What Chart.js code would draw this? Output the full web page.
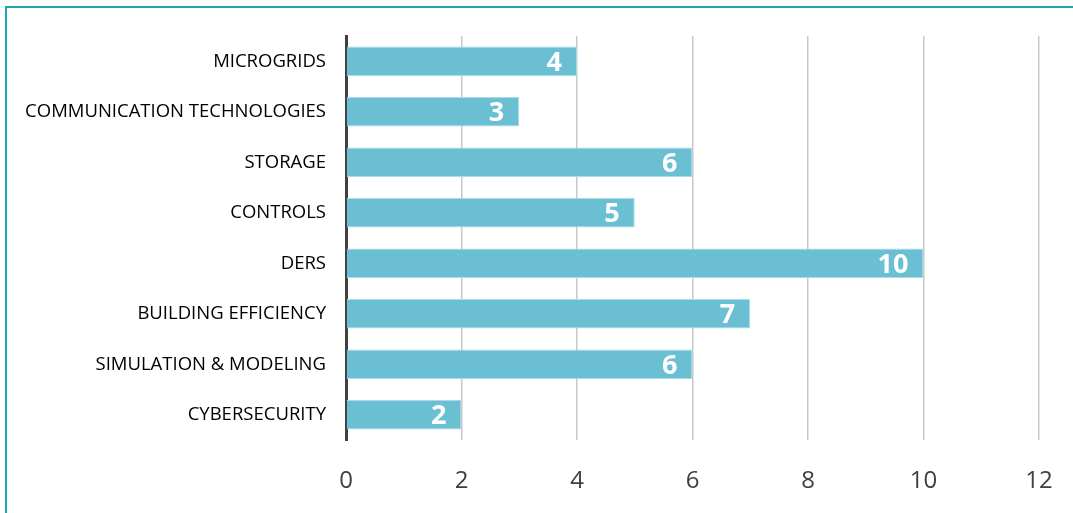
<!DOCTYPE html>
<html>
<head>
<meta charset="utf-8">
<script src="https://cdn.jsdelivr.net/npm/chart.js@4.4.1/dist/chart.umd.min.js"></script>
<style>
  html, body { margin: 0; padding: 0; background: #ffffff; overflow: hidden; }
  #wrap { position: relative; width: 1073px; height: 513px; overflow: hidden; }
  #frame { position: absolute; left: 5px; top: 6px; width: 1100px; height: 540px; border: 2px solid #1ba6b6; box-sizing: border-box; }
  canvas { position: absolute; left: 0; top: 0; }
</style>
</head>
<body>
<div id="wrap">
  <div id="frame"></div>
  <canvas id="c" width="1073" height="513"></canvas>
</div>
<script>
const categories = [
  'MICROGRIDS',
  'COMMUNICATION TECHNOLOGIES',
  'STORAGE',
  'CONTROLS',
  'DERS',
  'BUILDING EFFICIENCY',
  'SIMULATION & MODELING',
  'CYBERSECURITY'
];
const counts = [4, 3, 6, 5, 10, 7, 6, 2];
const tickValues = [0, 2, 4, 6, 8, 10, 12];

// White bold value printed just inside the end of each bar
const barValueLabels = {
  id: 'barValueLabels',
  afterDatasetsDraw(chart) {
    const ctx = chart.ctx;
    const meta = chart.getDatasetMeta(0);
    ctx.save();
    ctx.fillStyle = '#ffffff';
    ctx.font = 'bold 27px "Open Sans", "Liberation Sans", sans-serif';
    ctx.textAlign = 'right';
    ctx.textBaseline = 'middle';
    meta.data.forEach((bar, i) => {
      ctx.fillText(String(counts[i]), bar.x - 15, bar.y + 2);
    });
    ctx.restore();
  }
};

new Chart(document.getElementById('c'), {
  type: 'bar',
  data: {
    labels: categories,
    datasets: [{
      data: counts,
      backgroundColor: '#6bbfd3',
      borderColor: '#a9dce8',
      borderWidth: 1,
      barPercentage: 0.58,
      categoryPercentage: 1.0
    }]
  },
  options: {
    indexAxis: 'y',
    responsive: false,
    animation: false,
    layout: { padding: { left: 0, right: 34, top: 36, bottom: 0 } },
    plugins: { legend: { display: false }, tooltip: { enabled: false } },
    scales: {
      x: {
        min: 0,
        max: 12,
        afterBuildTicks(scale) { scale.ticks = tickValues.map(v => ({ value: v })); },
        afterFit(scale) {
          scale.height = 73;
          scale.paddingLeft = 0;
          scale.paddingRight = 0;
        },
        grid: { color: '#c8c8c8', lineWidth: 1.5, drawTicks: false },
        border: { display: false },
        ticks: {
          color: '#404040',
          padding: 27,
          font: { family: '"Open Sans", "Liberation Sans", sans-serif', size: 24 }
        }
      },
      y: {
        afterFit(scale) { scale.width = 346; },
        grid: { display: false, drawTicks: false },
        border: { display: true, color: '#404040', width: 3 },
        ticks: {
          color: '#000000',
          padding: 20,
          font: { family: '"Open Sans", "Liberation Sans", sans-serif', size: 18.5 }
        }
      }
    }
  },
  plugins: [barValueLabels]
});
</script>
</body>
</html>
